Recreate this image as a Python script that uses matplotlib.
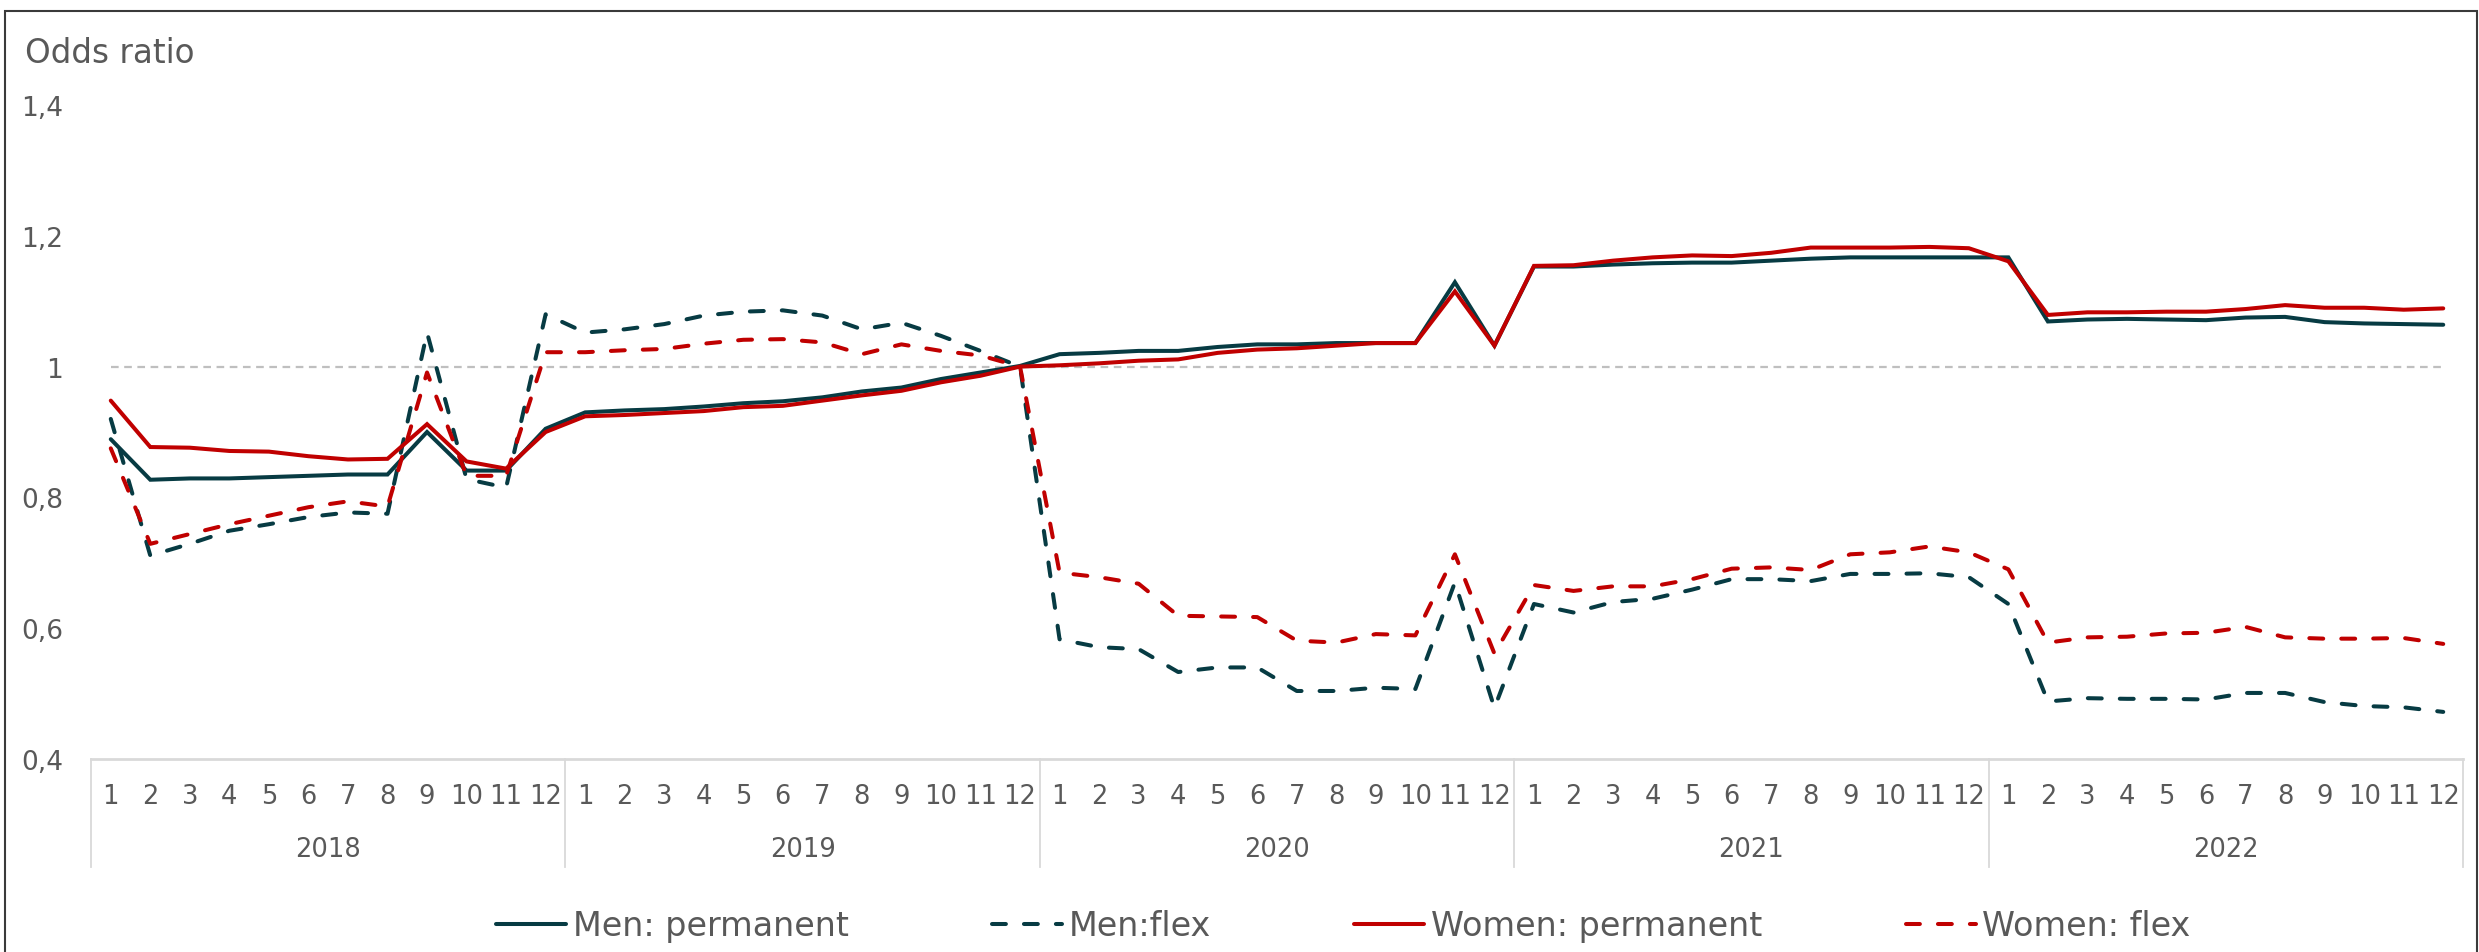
import matplotlib
matplotlib.use("Agg")
import matplotlib.pyplot as plt
import numpy as np
from matplotlib.lines import Line2D
from matplotlib.patches import Rectangle
import matplotlib.transforms as mtransforms

plt.rcParams['font.family'] = ['DejaVu Sans']
plt.rcParams['lines.scale_dashes'] = False

years = ["2018", "2019", "2020", "2021", "2022"]
months = [str(m) for m in range(1, 13)]

men_perm = [0.889, 0.827, 0.829, 0.829, 0.831, 0.833, 0.835, 0.835, 0.900, 0.841, 0.841, 0.905,
            0.930, 0.933, 0.935, 0.939, 0.944, 0.947, 0.953, 0.962, 0.968, 0.981, 0.991, 1.001,
            1.019, 1.021, 1.024, 1.024, 1.030, 1.034, 1.034, 1.036, 1.036, 1.036, 1.129, 1.032,
            1.153, 1.153, 1.156, 1.158, 1.159, 1.159, 1.162, 1.165, 1.167, 1.167, 1.167, 1.167,
            1.167, 1.069, 1.072, 1.073, 1.072, 1.071, 1.075, 1.076, 1.068, 1.066, 1.065, 1.064]
men_flex = [0.920, 0.711, 0.729, 0.749, 0.759, 0.770, 0.777, 0.775, 1.052, 0.828, 0.815, 1.080,
            1.052, 1.057, 1.065, 1.078, 1.084, 1.086, 1.078, 1.057, 1.067, 1.047, 1.024, 1.000,
            0.583, 0.571, 0.568, 0.533, 0.540, 0.540, 0.504, 0.504, 0.509, 0.507, 0.670, 0.478,
            0.637, 0.624, 0.640, 0.645, 0.659, 0.675, 0.675, 0.672, 0.683, 0.683, 0.684, 0.678,
            0.637, 0.488, 0.493, 0.492, 0.492, 0.491, 0.501, 0.501, 0.487, 0.481, 0.479, 0.472]
women_perm = [0.948, 0.877, 0.876, 0.871, 0.870, 0.863, 0.858, 0.859, 0.912, 0.855, 0.844, 0.900,
              0.924, 0.926, 0.929, 0.932, 0.938, 0.940, 0.948, 0.956, 0.963, 0.976, 0.986, 1.000,
              1.002, 1.005, 1.009, 1.011, 1.021, 1.026, 1.028, 1.032, 1.036, 1.036, 1.115, 1.032,
              1.154, 1.155, 1.162, 1.167, 1.170, 1.169, 1.174, 1.182, 1.182, 1.182, 1.183, 1.181,
              1.161, 1.079, 1.083, 1.083, 1.084, 1.084, 1.088, 1.094, 1.090, 1.090, 1.087, 1.089]
women_flex = [0.875, 0.729, 0.744, 0.759, 0.772, 0.785, 0.794, 0.786, 0.991, 0.833, 0.833, 1.022,
              1.022, 1.025, 1.027, 1.035, 1.041, 1.042, 1.037, 1.019, 1.034, 1.024, 1.017, 1.000,
              0.685, 0.678, 0.668, 0.619, 0.618, 0.617, 0.581, 0.578, 0.591, 0.589, 0.713, 0.561,
              0.666, 0.657, 0.664, 0.664, 0.675, 0.691, 0.693, 0.689, 0.713, 0.716, 0.725, 0.716,
              0.690, 0.578, 0.586, 0.587, 0.592, 0.593, 0.602, 0.586, 0.584, 0.584, 0.585, 0.576]
reference = [1.0] * 60

y_ticks = [0.4, 0.6, 0.8, 1.0, 1.2, 1.4]
y_tick_labels = ["0,4", "0,6", "0,8", "1", "1,2", "1,4"]

DARK = '#073B43'
RED = '#C00000'
TXT = '#595959'
AXG = '#D9D9D9'

W, H = 2479, 953
fig = plt.figure(figsize=(W / 100, H / 100), dpi=100)
ax_left, ax_right, ax_top, ax_bot = 91, 2463, 106, 760
ax = fig.add_axes([ax_left / W, 1 - ax_bot / H, (ax_right - ax_left) / W, (ax_bot - ax_top) / H])

x = np.arange(len(men_perm))
dash = (0, (10, 13))
lw = 2.9

ax.plot(x, reference, color='#BFBFBF', lw=1.6, linestyle=(0, (5.5, 4)), zorder=1)
l1, = ax.plot(x, men_perm, color=DARK, lw=lw, solid_capstyle='round', solid_joinstyle='miter', zorder=2, label='Men: permanent')
l2, = ax.plot(x, men_flex, color=DARK, lw=lw, linestyle=dash, dash_capstyle='round', zorder=3, label='Men:flex')
l3, = ax.plot(x, women_perm, color=RED, lw=lw, solid_capstyle='round', solid_joinstyle='miter', zorder=4, label='Women: permanent')
l4, = ax.plot(x, women_flex, color=RED, lw=lw, linestyle=dash, dash_capstyle='round', zorder=5, label='Women: flex')

ax.set_xlim(-0.5, len(x) - 0.5)
ax.set_ylim(0.4, 1.4)
ax.set_yticks(y_ticks)
ax.set_yticklabels(y_tick_labels)
ax.tick_params(axis='y', length=0, pad=20, labelsize=19, labelcolor=TXT)
ax.set_xticks([])
for s in ['top', 'right', 'left']:
    ax.spines[s].set_visible(False)
ax.spines['bottom'].set_color(AXG)
ax.spines['bottom'].set_linewidth(2.0)

trans = mtransforms.blended_transform_factory(ax.transData, ax.transAxes)
axh = ax_bot - ax_top
# month labels
for i in x:
    ax.text(i, -37 / axh, months[i % 12], transform=trans, ha='center', va='center',
            fontsize=18.5, color=TXT, clip_on=False)
# year labels and separators
for k, yr in enumerate(years):
    ax.text(12 * k + 5.5, -90 / axh, yr, transform=trans, ha='center', va='center',
            fontsize=18.5, color=TXT, clip_on=False)
for k in range(len(years) + 1):
    ax.add_line(Line2D([12 * k - 0.5, 12 * k - 0.5], [0, -108 / axh], transform=trans,
                       color=AXG, lw=1.3, clip_on=False))

fig.text(25 / W, 1 - 63 / H, "Odds ratio", fontsize=23.5, color=TXT, ha='left', va='baseline')

leg = fig.legend(handles=[l1, l2, l3, l4], loc='center', bbox_to_anchor=(1343.5 / W, 1 - 927 / H),
                 ncol=4, frameon=False, fontsize=24, handlelength=2.1, handletextpad=0.2,
                 columnspacing=4.3, labelcolor=TXT)

fig.add_artist(Rectangle((4.5 / W, -0.05), (2476.5 - 4.5) / W, (1 - 12 / H) + 0.05,
                         transform=fig.transFigure, fill=False, edgecolor='#3A3A3A', lw=1.5))

fig.savefig('out.png', dpi=100)
